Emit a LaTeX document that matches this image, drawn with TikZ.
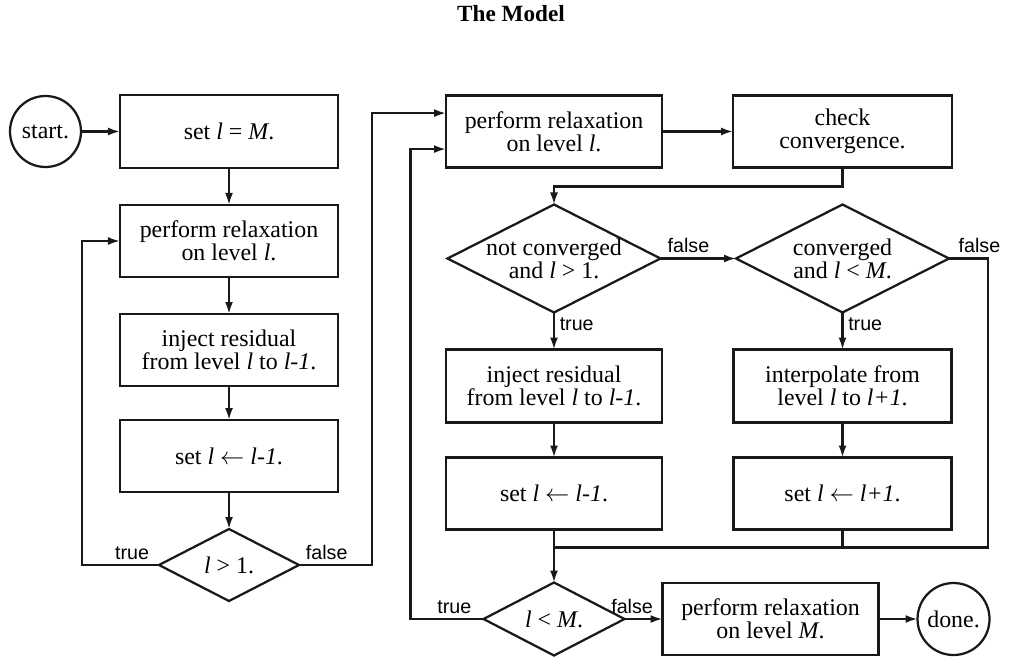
\documentclass[tikz,border=0pt]{standalone}
\usepackage{fontspec}
\setmainfont{Liberation Serif}
\newfontfamily\tagfont{Liberation Sans}
\usetikzlibrary{arrows.meta,positioning,shapes.geometric}

\begin{document}
\begin{tikzpicture}[
  x=0.25mm, y=-0.25mm,
  font=\fontsize{17}{16.5}\selectfont,
  >={Latex[length=3mm,width=2mm]},
  line/.style={->,line width=1.5pt,draw=black!90},
  link/.style={line width=1.5pt,draw=black!90},
  proc/.style={draw=black!90,line width=1.6pt,align=center,inner sep=0pt,
               outer sep=0pt,minimum width=54.5mm,minimum height=18mm},
  decision/.style={diamond,draw=black!90,line width=1.6pt,aspect=2,outer sep=0pt,
                   align=center,inner xsep=-6mm,inner ysep=0pt},
  term/.style={circle,draw=black!90,line width=1.6pt,inner sep=0pt,outer sep=0pt,
               minimum size=17.75mm},
  tag/.style={font=\fontsize{14}{14}\tagfont}
]
\useasboundingbox (0,0) rectangle (1010,662);
\node[font=\fontsize{16.5}{18}\selectfont\bfseries] (title) at (511,14) {The Model};

\node[proc,minimum height=18.25mm] (setM) at (229,131.5) {set \textit{l} = \textit{M}.};
\node[term,left=9.75mm of setM] (start) {start.};
\node[proc,below=9.25mm of setM] (relaxA) {perform relaxation\\on level \textit{l}.};
\node[proc,below=9.25mm of relaxA] (injectA) {inject residual\\from level \textit{l} to \textit{l-1}.};
\node[proc,below=8.5mm of injectA] (decA) {set \textit{l} $\leftarrow$ \textit{l-1}.};
\node[decision,below=9.25mm of decA,minimum width=35mm,minimum height=18mm] (testA)
  {\textit{l} > 1.};

\node[proc,right=27mm of setM,minimum width=54mm] (relaxB) {perform relaxation\\on level \textit{l}.};
\node[proc,right=17.75mm of relaxB,minimum width=54.75mm] (check) {check\\convergence.};
\node[decision,below=9.25mm of relaxB,minimum width=53.25mm,minimum height=27mm] (dec1)
  {not converged\\and \textit{l} > 1.};
\node[decision,below=9.25mm of check,minimum width=53.25mm,minimum height=27mm] (dec2)
  {converged\\and \textit{l} < \textit{M}.};
\node[proc,below=9.25mm of dec1,minimum width=54mm,minimum height=18.25mm] (injectB)
  {inject residual\\from level \textit{l} to \textit{l-1}.};
\node[proc,below=9.25mm of dec2,minimum height=18.25mm] (interp)
  {interpolate from\\level \textit{l} to \textit{l+1}.};
\node[proc,below=8.75mm of injectB,minimum width=54mm] (decB) {set \textit{l} $\leftarrow$ \textit{l-1}.};
\node[proc,below=8.75mm of interp] (incB) {set \textit{l} $\leftarrow$ \textit{l+1}.};
\node[decision,below=13.25mm of decB,minimum width=35.25mm,minimum height=18.25mm] (testB)
  {\textit{l} < \textit{M}.};
\node[proc,right=9.5mm of testB,minimum width=54mm] (relaxM) {perform relaxation\\on level \textit{M}.};
\node[term,right=9.75mm of relaxM,minimum size=18mm] (done) {done.};

\coordinate (loopA) at ([xshift=-19.25mm]testA.west);
\coordinate (upA) at ([xshift=18.25mm]testA.east);
\coordinate (loopB) at ([xshift=-18.25mm]testB.west);
\coordinate (joinB) at ([yshift=-4.5mm]decB.south);

\draw[line] (start) -- (setM);
\draw[line] (setM) -- (relaxA);
\draw[line] (relaxA) -- (injectA);
\draw[line] (injectA) -- (decA);
\draw[line] (decA) -- (testA);
\draw[line] (testA.west) -- node[tag,above,pos=0.35]{true} (loopA) |- (relaxA.west);
\draw[line] (testA.east) -- node[tag,above,pos=0.38]{false} (upA)
  |- ([yshift=4.6mm]relaxB.west);
\draw[line] (relaxB) -- (check);
\draw[line] (check.south) -- ++(0,-4.75mm) -| (dec1.north);
\draw[line] (dec1.east) -- node[tag,above,pos=0.37]{false} (dec2.west);
\draw[line] (dec1.south) -- node[tag,right,pos=0.32]{true} (injectB.north);
\draw[line] (dec2.south) -- node[tag,right,pos=0.32]{true} (interp.north);
\draw[line] (injectB) -- (decB);
\draw[line] (interp) -- (incB);
\draw[link] (dec2.east) -- node[tag,above,pos=0.78]{false} ++(9.75mm,0) |- (joinB);
\draw[link] (incB.south) -- (incB.south |- joinB);
\draw[line] (decB.south) -- (testB.north);
\draw[line] (testB.west) -- node[tag,above,pos=0.4]{true} (loopB)
  |- ([yshift=-4.4mm]relaxB.west);
\draw[line] (testB.east) -- node[tag,above,pos=0.2]{false} (relaxM.west);
\draw[line] (relaxM) -- (done);
\end{tikzpicture}
\end{document}
